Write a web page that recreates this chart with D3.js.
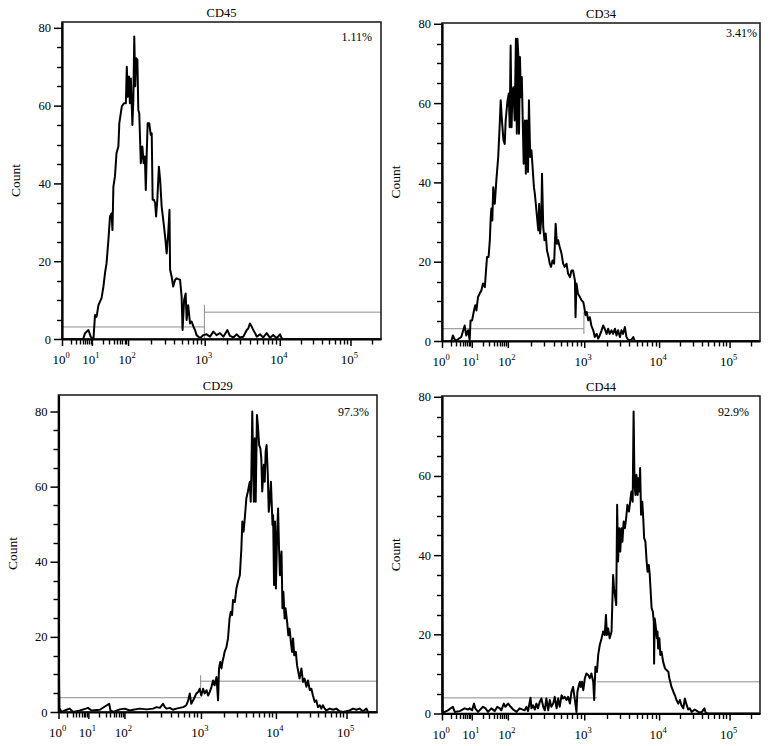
<!DOCTYPE html>
<html>
  <head>
    <title>Flow cytometry: surface marker histograms</title>
    <meta charset="UTF-8">
    <style>
      body { margin: 0; background: #fff; }
      svg text { font-family: "Liberation Serif", "DejaVu Serif", serif; fill: #000; }
    </style>
  </head>
  <body>
    <svg id="chart" width="770" height="746"></svg>

    <script src="https://d3js.org/d3.v7.min.js" charset="utf-8"></script>

    <script>

/* DATA */

var markers = ["CD45", "CD34", "CD29", "CD44"];
var positivePct = ["1.11%", "3.41%", "97.3%", "92.9%"];

// display channel (0-1024) where each decade 10^0 .. 10^5 sits on the logicle axis
var decadeExp = [0, 1, 2, 3, 4, 5];
var decadeChannels = [0, 96, 212, 458, 699, 926];
var countTicks = [0, 20, 40, 60, 80];

// marker gates: split channel, count level of the negative / positive bars
var gateChannel = [457, 457, 457, 499];
var gateLow = [3.1, 3.1, 3.8, 3.95];
var gateHigh = [6.9, 7.2, 8.2, 8.0];
var gateTickFrom = [0, 1.8, 6.2, 8.0];
var gateTickTo = [8.8, 7.4, 9.8, 8.0];

// histograms: [channel, count]
var cd45Hist = [[0,0],[68,0],[74,1.5],[85,2.3],[92,0.6],[101,0],[106,6.2],[111,5.7],[117,8.7],[122,9.6],[127,10.5],[133,13.5],[138,16.9],[143,19.5],[149,25.5],[154,31.5],[159,32.3],[162,28],[165,39.2],[170,41.8],[175,47.8],[181,49.5],[184,55.5],[192,59.8],[199,60.6],[205,60.6],[208,70],[211,62.3],[215,67.5],[218,60.6],[221,67],[226,55],[229,61.5],[232,77.8],[235,65],[238,72.2],[242,71.8],[245,58.9],[248,58],[253,45.2],[258,49.5],[262,45.2],[266,46.9],[269,38.3],[272,47.8],[275,55.5],[280,55.5],[285,52.5],[288,52.9],[291,35.8],[295,35.8],[299,34.9],[302,31.5],[306,35.8],[311,44.3],[315,40.9],[320,34],[325,30.6],[331,26.3],[336,22],[341,27.2],[345,33.2],[347,17.8],[352,16],[357,13.5],[363,15.2],[368,15.6],[379,15.2],[384,10.9],[387,2.3],[392,10],[397,11.7],[400,4.9],[405,8.7],[411,4],[416,4.5],[422,3.2],[427,2.3],[432,1],[438,0.6],[443,0.2],[454,1],[464,1.2],[475,0.6],[486,1.9],[496,1],[507,1.5],[518,0.6],[531,2.3],[539,0.8],[550,0.4],[561,1.2],[571,0.4],[582,0.6],[593,2.3],[598,2.7],[603,4],[609,3.2],[614,2.3],[620,1.5],[625,0.6],[636,1.2],[646,0.4],[657,1.5],[668,0.3],[678,1],[689,0.2],[700,1.2],[705,0.2],[710,0],[1024,0]];

var cd34Hist = [[0,0],[30,0],[35,1.4],[43,0],[62,1],[73,3.9],[78,1.4],[84,2.7],[89,0.2],[92,5.2],[97,5.2],[103,7.7],[107,9],[111,7.7],[116,11.1],[121,11.9],[127,12.8],[132,14.5],[138,13.6],[141,17],[145,21.2],[150,21.2],[154,25.4],[157,31.3],[159,33.4],[162,30.4],[165,38.8],[170,34.6],[175,40.5],[181,46.4],[186,54.8],[189,60.7],[193,55.6],[198,50.6],[202,49.7],[205,55.6],[211,60.7],[215,62.4],[218,53.9],[221,74.5],[224,53.9],[227,63.2],[230,64],[234,55.6],[238,76.2],[241,52.3],[243,76.2],[246,71.6],[248,52.3],[251,71.6],[254,61.5],[257,66.6],[260,55.6],[263,44.7],[267,55.6],[270,42.2],[273,55.6],[277,42.6],[280,60.7],[284,46.4],[288,48.1],[291,44.7],[296,38.8],[299,37.1],[301,35.5],[305,32.1],[310,27.9],[313,34.6],[316,27.1],[320,31.3],[322,42.2],[326,28.7],[330,25.4],[334,27.1],[338,22.9],[343,21.2],[347,19.5],[351,18.7],[356,20.3],[361,19.5],[366,29.6],[370,24.5],[374,25.4],[379,23.7],[385,22],[390,19.5],[395,18.7],[401,19.5],[406,17],[412,16.1],[417,17.8],[422,17.8],[428,15.3],[430,6],[433,14.5],[438,11.9],[444,11.1],[449,10.3],[455,9.8],[458,8.6],[462,6.5],[466,7.3],[471,5.2],[476,6],[481,3.9],[487,2.7],[492,1],[498,1.8],[503,0.6],[508,1.4],[514,2.7],[519,3.9],[524,3.1],[530,1.8],[535,3.1],[540,1.8],[546,2.7],[551,1.8],[557,3.1],[562,1.4],[567,2.7],[573,1],[578,2.7],[583,1.8],[589,3.5],[594,1],[600,0.2],[610,0.3],[616,1],[621,0],[1024,0]];

var cd29Hist = [[0,20.9],[3,0.9],[4,0.9],[10,0],[26,0.6],[36,0.9],[47,0],[69,0.4],[88,0.9],[95,1.1],[106,0.4],[133,0.6],[163,2.2],[167,0.4],[176,0],[197,0.7],[213,0.9],[229,0.4],[240,0.6],[261,0.9],[283,0.7],[304,0.9],[315,1.3],[326,1.1],[336,2.2],[342,1.3],[347,0.9],[358,1.1],[368,0.6],[379,0.9],[390,1.1],[401,1.3],[411,1.8],[417,3.1],[422,4.9],[427,2.2],[433,3.1],[438,4],[443,4.9],[449,5.3],[454,6.2],[459,4.4],[465,6.2],[470,4.9],[476,5.8],[481,4.4],[486,5.3],[492,6.7],[497,8.4],[502,7.1],[508,9.3],[513,3.1],[516,11.6],[520,13.3],[524,11.6],[527,13.3],[531,14.7],[534,16],[540,17.3],[545,19.6],[550,24.9],[554,26.7],[558,25.8],[561,29.8],[567,29.3],[572,32.9],[577,34.7],[583,36.4],[588,43.6],[591,50.7],[595,48],[599,51.6],[604,56.9],[609,58.7],[615,61.3],[618,56],[620,63.1],[623,80],[628,56],[631,72.9],[634,56],[638,79.1],[641,76.4],[645,71.1],[649,70.2],[652,67.6],[655,58.7],[660,65.8],[663,61.3],[666,69.3],[669,71.1],[673,63.1],[676,53.3],[679,56],[683,61.3],[688,49.8],[690,52.4],[693,33.8],[696,50.7],[699,32.9],[703,48],[706,54.2],[709,43.6],[712,36.4],[717,42.7],[720,27.6],[723,32],[727,24.9],[730,27.6],[735,24],[739,20.4],[743,22.2],[747,18.7],[751,16],[754,19.6],[758,15.1],[763,16],[767,12.4],[771,10.7],[775,8.9],[781,11.6],[786,8],[791,8.9],[797,6.7],[802,8.4],[808,5.8],[813,6.2],[818,4.4],[824,2.7],[829,3.1],[834,1.3],[840,1.8],[845,0.9],[850,1.8],[856,0.9],[861,0.4],[872,0.9],[883,0.6],[893,0.9],[904,0.2],[915,0],[936,0.4],[947,0.9],[958,0.6],[968,0.9],[979,0.2],[990,0.9],[995,0],[1024,0]];

var cd44Hist = [[0,46.4],[2,0.4],[9,0.4],[19,0.8],[35,1.7],[41,0.4],[57,0.6],[73,1.3],[84,1],[89,1.3],[97,0.8],[103,2.5],[107,1.3],[116,0.4],[132,1.7],[140,1.3],[148,0.4],[159,1.3],[170,0.6],[178,1.7],[186,1.3],[191,0.8],[199,2.5],[204,1.7],[213,2.5],[221,1.7],[229,1],[240,0.4],[250,1.3],[266,0.8],[272,1.7],[277,0.6],[285,4],[288,1.3],[293,2.1],[299,1],[304,2.5],[309,1.3],[315,3],[320,3.8],[326,1.7],[331,0.8],[336,3.8],[342,0.8],[347,3.4],[352,1.7],[358,2.5],[363,4.2],[369,1.3],[374,3.8],[379,1.7],[385,4.6],[390,3.8],[395,4.2],[401,3.4],[406,4.2],[412,2.5],[417,5.5],[422,6.7],[428,3.4],[433,0.4],[436,5.5],[441,7.2],[444,8],[447,6.7],[451,8],[455,5.9],[460,8.9],[465,10.1],[471,9.7],[476,8.9],[481,10.1],[487,8],[490,3.4],[494,11.8],[499,10.5],[503,14.8],[508,17.3],[514,19],[519,20.7],[524,19.8],[528,24.9],[531,19.8],[535,21.5],[540,19],[546,20.7],[551,35],[554,31.6],[557,29.9],[561,27.4],[564,52.7],[567,38.4],[571,46.8],[574,40.9],[578,46.8],[581,43.4],[585,48.5],[589,46.8],[593,49.3],[597,52.7],[602,51],[606,53.5],[610,56.1],[614,53.5],[617,76.3],[620,57.8],[623,55.2],[626,60.3],[630,55.2],[632,59.4],[635,56.1],[638,62],[641,50.2],[645,53.5],[648,49.3],[651,44.3],[655,43.4],[659,38.4],[662,35.8],[666,37.5],[669,35],[675,26.6],[679,25.7],[682,23.2],[683,12.6],[685,24],[689,21.5],[692,19],[694,20.7],[696,16.4],[700,19],[703,14.8],[707,15.6],[712,13.1],[718,11.4],[723,11],[729,10.5],[732,8.9],[735,8],[739,6.7],[745,5.5],[750,4.6],[755,3.4],[761,2.5],[766,3.4],[771,2.1],[777,1.3],[782,3.8],[788,2.1],[793,1],[798,1.3],[804,0.4],[814,1],[825,0.4],[836,0.3],[845,1.3],[849,0.2],[857,0],[1024,0]];

var histograms = [cd45Hist, cd34Hist, cd29Hist, cd44Hist];

/* LAYOUT */

var panels = [
  {x: 62,   y: 22,  w: 319, h: 317, ymax: 81.5, pctX: 372, pctY: 41},
  {x: 442,  y: 23,  w: 318, h: 318, ymax: 80.2, pctX: 757, pctY: 37},
  {x: 58.5, y: 395, w: 318.5, h: 317, ymax: 84.4, pctX: 369, pctY: 416},
  {x: 442,  y: 396, w: 318, h: 317.5, ymax: 80.2, pctX: 749, pctY: 416}
];

var svg = d3.select("#chart");

// minor ticks: 2..9 inside each decade, spaced logarithmically
var minorChannels = [];
decadeChannels.forEach(function(c, i){
  var span = (i < decadeChannels.length - 1 ? decadeChannels[i+1] : 2*c - decadeChannels[i-1]) - c;
  for (var m = 2; m <= 9; m++) {
    var ch = c + span * Math.log10(m);
    if (ch < 1024) minorChannels.push(ch);
  }
});

panels.forEach(function(p, i){
  var x = d3.scaleLinear().domain([0, 1024]).range([p.x, p.x + p.w]);
  var y = d3.scaleLinear().domain([0, p.ymax]).range([p.y + p.h, p.y]);
  var g = svg.append("g");
  var bottom = p.y + p.h;

  g.append("clipPath").attr("id", "clip" + i)
    .append("rect").attr("x", p.x).attr("y", p.y).attr("width", p.w).attr("height", p.h);

  // gates
  var gate = g.append("g").attr("stroke", "#8c8c8c").attr("stroke-width", 1);
  gate.append("line")
    .attr("x1", x(0)).attr("x2", x(gateChannel[i]))
    .attr("y1", y(gateLow[i])).attr("y2", y(gateLow[i]));
  gate.append("line")
    .attr("x1", x(gateChannel[i])).attr("x2", x(1024))
    .attr("y1", y(gateHigh[i])).attr("y2", y(gateHigh[i]));
  gate.append("line")
    .attr("x1", x(gateChannel[i])).attr("x2", x(gateChannel[i]))
    .attr("y1", y(gateTickFrom[i])).attr("y2", y(gateTickTo[i]));

  // histogram
  var line = d3.line().x(function(d){ return x(d[0]); }).y(function(d){ return y(d[1]); });
  g.append("path")
    .datum(histograms[i])
    .attr("clip-path", "url(#clip" + i + ")")
    .attr("fill", "none")
    .attr("stroke", "#000")
    .attr("stroke-width", 2)
    .attr("stroke-linejoin", "round")
    .attr("d", line);

  // frame
  g.append("rect")
    .attr("x", p.x).attr("y", p.y).attr("width", p.w).attr("height", p.h)
    .attr("fill", "none").attr("stroke", "#222").attr("stroke-width", 1.6);

  // y axis
  var yAxis = d3.axisLeft(y).tickValues(countTicks).tickSize(8).tickSizeOuter(0).tickFormat(d3.format("d"));
  var ya = g.append("g").attr("transform", "translate(" + p.x + ",0)").call(yAxis);
  ya.select(".domain").attr("stroke", "#000").attr("stroke-width", 2.2);
  ya.selectAll(".tick line").attr("stroke", "#000").attr("stroke-width", 1.5);
  ya.selectAll(".tick text").attr("font-size", 12.5).attr("fill", "#000")
    .style("font-family", '"Liberation Serif", serif').attr("x", -11);
  var yMinor = d3.range(5, p.ymax, 5).filter(function(v){ return v % 20 !== 0; });
  g.append("g").selectAll("line").data(yMinor).join("line")
    .attr("x1", p.x - 5).attr("x2", p.x)
    .attr("y1", function(d){ return Math.round(y(d)) + 0.5; })
    .attr("y2", function(d){ return Math.round(y(d)) + 0.5; })
    .attr("stroke", "#000").attr("stroke-width", 1.4);

  // x axis
  var xAxis = d3.axisBottom(x).tickValues(decadeChannels).tickSize(7).tickSizeOuter(0).tickFormat("");
  var xa = g.append("g").attr("transform", "translate(0," + bottom + ")").call(xAxis);
  xa.select(".domain").attr("stroke", "#000").attr("stroke-width", 2.2);
  xa.selectAll(".tick line").attr("stroke", "#000").attr("stroke-width", 1.5);
  g.append("g").selectAll("line").data(minorChannels).join("line")
    .attr("x1", function(d){ return Math.round(x(d)) + 0.5; })
    .attr("x2", function(d){ return Math.round(x(d)) + 0.5; })
    .attr("y1", bottom).attr("y2", bottom + 5.5)
    .attr("stroke", "#000").attr("stroke-width", 1.4);

  var lab = g.append("g").selectAll("text").data(decadeExp).join("text")
    .attr("x", function(d, k){ return x(decadeChannels[k]) - 1; })
    .attr("y", bottom + 25)
    .attr("text-anchor", "middle")
    .attr("font-size", 13);
  lab.append("tspan").text("10");
  lab.append("tspan").attr("dy", -6).attr("font-size", 8.5).text(function(d){ return d; });

  // titles
  g.append("text")
    .attr("x", p.x + p.w / 2).attr("y", p.y - 5)
    .attr("text-anchor", "middle").attr("font-size", 12.5)
    .text(markers[i]);
  g.append("text")
    .attr("x", p.pctX).attr("y", p.pctY)
    .attr("text-anchor", "end").attr("font-size", 12)
    .text(positivePct[i]);
  g.append("text")
    .attr("transform", "translate(" + (p.x - 42) + "," + (p.y + p.h / 2) + ") rotate(-90)")
    .attr("text-anchor", "middle").attr("font-size", 13.5)
    .text("Count");
});

    </script>
  </body>
</html>
